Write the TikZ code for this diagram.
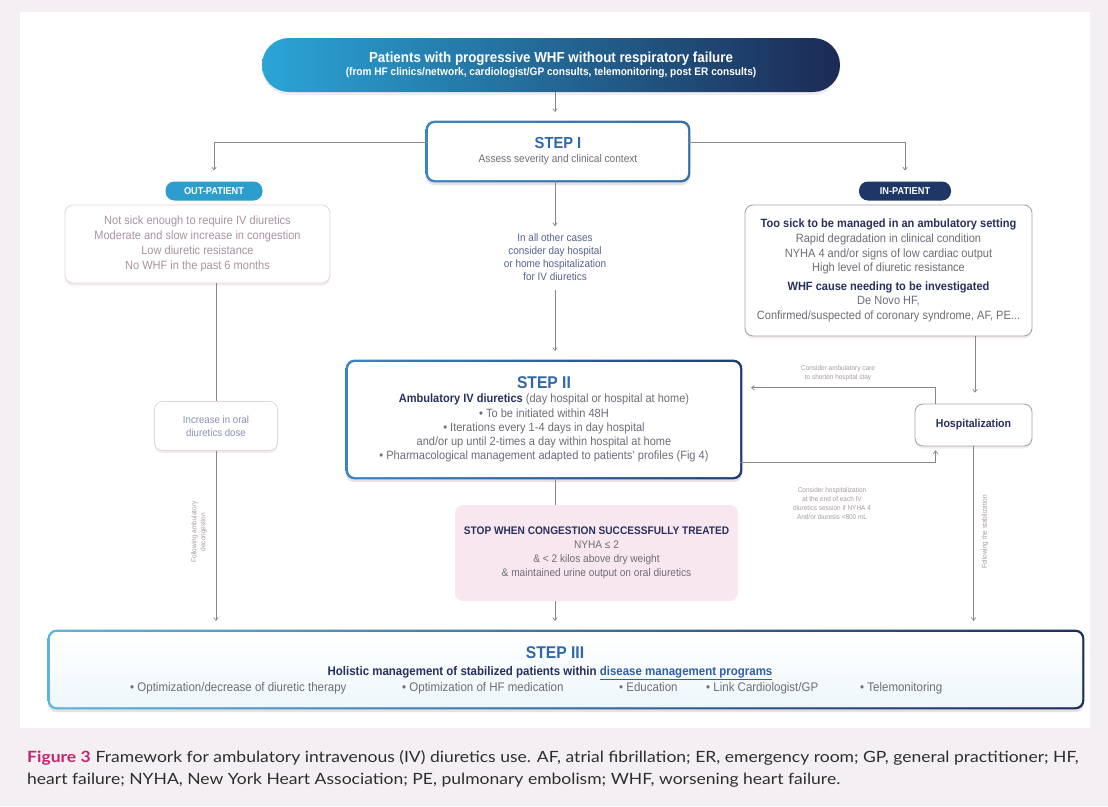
\documentclass[tikz,border=0pt]{standalone}
\usepackage{fontspec}
\setmainfont{Liberation Sans}[FakeStretch=0.92]
\newfontfamily\capfont{Lato}[FakeStretch=1.13]
\usetikzlibrary{arrows.meta,calc,shadows}
\pgfdeclarelayer{back}\pgfdeclarelayer{ring}
\pgfsetlayers{back,ring,main}
\newcommand\fsz[2]{\fontsize{#1}{#2}\selectfont}
\definecolor{outerbg}{HTML}{F3EFF2}
\definecolor{bannerL}{HTML}{2AA5D6}
\definecolor{bannerR}{HTML}{1C2A55}
\definecolor{stepblue}{HTML}{2F68A8}
\definecolor{ringL}{HTML}{3B86C2}
\definecolor{ringR}{HTML}{1F3E72}
\definecolor{navy}{HTML}{27305E}
\definecolor{graytxt}{HTML}{6E6C78}
\definecolor{palepink}{HTML}{A8939F}
\definecolor{midtxt}{HTML}{56628E}
\definecolor{cline}{HTML}{8C8388}
\definecolor{softborder}{HTML}{E6D6DE}
\definecolor{grayborder}{HTML}{ABA3AB}
\definecolor{stopfill}{HTML}{F8E7EE}
\definecolor{outpill}{HTML}{2C9DCC}
\definecolor{inpill}{HTML}{1F3767}
\definecolor{capred}{HTML}{C4246A}
\definecolor{captxt}{HTML}{2E2E2E}
\definecolor{tinytxt}{HTML}{A89AA3}
\definecolor{sIIIL}{HTML}{5BB5DA}
\definecolor{sIIIR}{HTML}{1E2F5A}
\definecolor{sIIIfill}{HTML}{EEF7FB}
\definecolor{linkblue}{HTML}{2F5FA5}
\definecolor{shadowc}{HTML}{D9CCD3}
\tikzset{
  conn/.style={draw=cline, line width=0.7pt},
  arr/.style={conn, -{To[length=3.5pt,width=5pt]}},
  gap/.style={shorten >=11pt},
  stepbox/.style={rounded corners=7pt, fill=white, inner sep=0pt, align=center},
  softbox/.style={rounded corners=8pt, fill=white, line width=0.9pt, inner sep=0pt, align=center,
    drop shadow={shadow xshift=0pt, shadow yshift=-2.5pt, opacity=0.35, fill=shadowc}},
  pill/.style={rounded corners=9pt, minimum height=19, inner sep=0pt, text=white, font=\fsz{10}{12}\bfseries},
  banner/.style={rounded corners=27pt, left color=bannerL, right color=bannerR, minimum width=578,
    minimum height=54, text=white, align=center, inner sep=0pt,
    drop shadow={shadow xshift=0pt, shadow yshift=-3pt, opacity=0.35, fill=shadowc}},
  tinytext/.style={font=\fsz{7}{9}, text=tinytxt, align=center, inner sep=1pt},
  bullet/.style={anchor=base west, font=\fsz{12.5}{14}, text=graytxt, inner sep=0pt},
  captext/.style={anchor=base west, font=\capfont\fsz{15.5}{18}, text=captxt, inner sep=0pt},
}
\begin{document}
\begin{tikzpicture}[x=1pt,y=-1pt]
\useasboundingbox (0,0) rectangle (1108,806);
\begin{pgfonlayer}{back}
  \fill[outerbg] (0,0) rectangle (1108,806);
  \fill[white] (20,12) rectangle (1090,728);
\end{pgfonlayer}

% banner
\node[banner] (banner) at (551,65) {{\fsz{14.5}{17}\bfseries Patients with progressive WHF without respiratory failure}\\[1pt]{\fsz{11}{13}\bfseries (from HF clinics/network, cardiologist/GP consults, telemonitoring, post ER consults)}};

% step I
\node[stepbox, minimum width=260, minimum height=57] (s1) at (558,151.5) {{\fsz{16}{18}\bfseries\color{stepblue}STEP I}\\[2pt]{\fsz{11}{13}\color{graytxt}Assess severity and clinical context}};

% pills
\node[pill, fill=outpill, minimum width=97] (outp) at (214,191) {OUT-PATIENT};
\node[pill, fill=inpill, minimum width=92] (inp) at (905,191) {IN-PATIENT};

% out-patient box
\node[softbox, draw=softborder, minimum width=265, minimum height=78, text=palepink, font=\fsz{12}{15}] (outb) at (197.5,244) {Not sick enough to require IV diuretics\\Moderate and slow increase in congestion\\Low diuretic resistance\\No WHF in the past 6 months};

% middle text
\node[align=center, text=midtxt, font=\fsz{10.8}{13}] (mid) at (555,257) {In all other cases\\consider day hospital\\or home hospitalization\\for IV diuretics};

% in-patient box
\node[softbox, draw=grayborder, minimum width=287, minimum height=131, text=graytxt, font=\fsz{12}{14.6}] (inb) at (888.5,270.5) {{\bfseries\color{navy}Too sick to be managed in an ambulatory setting}\\Rapid degradation in clinical condition\\NYHA 4 and/or signs of low cardiac output\\High level of diuretic resistance\\[4pt]{\bfseries\color{navy}WHF cause needing to be investigated}\\De Novo HF,\\Confirmed/suspected of coronary syndrome, AF, PE...};

% step II
\node[stepbox, minimum width=392, minimum height=115, font=\fsz{12}{14.3}, text=graytxt] (s2) at (544,419.5) {{\fsz{17}{19}\bfseries\color{stepblue}STEP II}\\{\bfseries\color{navy}Ambulatory IV diuretics} (day hospital or hospital at home)\\\textbullet\ To be initiated within 48H\\\textbullet\ Iterations every 1-4 days in day hospital\\and/or up until 2-times a day within hospital at home\\\textbullet\ Pharmacological management adapted to patients’ profiles (Fig 4)};

% hospitalization
\node[softbox, draw=grayborder, minimum width=117, minimum height=42, font=\fsz{11.5}{13}\bfseries, text=navy] (hosp) at (973.5,425) {Hospitalization};

% increase
\node[softbox, draw=softborder, minimum width=123, minimum height=49, font=\fsz{10.5}{13}, text=midtxt!70] (incr) at (216,426) {Increase in oral\\diuretics dose};

% stop box
\node[fill=stopfill, rounded corners=8pt, minimum width=283, minimum height=96, align=center, font=\fsz{11}{14}, text=graytxt, inner sep=0pt] (stop) at (596.5,553) {{\bfseries\color{navy}STOP WHEN CONGESTION SUCCESSFULLY TREATED}\\NYHA ≤ 2\\\& < 2 kilos above dry weight\\\& maintained urine output on oral diuretics};

% step III
\node[stepbox, top color=white, bottom color=sIIIfill, minimum width=1032, minimum height=75] (s3) at (566,669.5) {};
\node[anchor=base, font=\fsz{17}{19}\bfseries, text=stepblue, inner sep=0pt] (s3t) at (555,658) {STEP III};
\node[anchor=base, font=\fsz{12.5}{14}\bfseries, text=navy, inner sep=0pt] (s3s) at (550,675) {Holistic management of stabilized patients within \textcolor{linkblue}{\underline{disease management programs}}};
\node[bullet] (b1) at (130,691) {\textbullet\ Optimization/decrease of diuretic therapy};
\node[bullet] (b2) at (402,691) {\textbullet\ Optimization of HF medication};
\node[bullet] (b3) at (619,691) {\textbullet\ Education};
\node[bullet] (b4) at (706,691) {\textbullet\ Link Cardiologist/GP};
\node[bullet] (b5) at (860,691) {\textbullet\ Telemonitoring};

% rings (gradient borders)
\begin{pgfonlayer}{ring}
  \foreach \n/\cl/\cr in {s1/ringL/ringL!70!ringR, s2/ringL/ringR, s3/sIIIL/sIIIR}{
    \fill[shadowc!60, rounded corners=9pt] ($(\n.north west)+(-2,1)$) rectangle ($(\n.south east)+(2,5)$);
    \shade[left color=\cl, right color=\cr, rounded corners=9pt] ($(\n.north west)+(-2.2,-2.2)$) rectangle ($(\n.south east)+(2.2,2.2)$);
  }
\end{pgfonlayer}

% small texts
\node[tinytext] (camb) at (838,373) {Consider ambulatory care\\to shorten hospital stay};
\node[tinytext] (chosp) at (832,503) {Consider hospitalization\\at the end of each IV\\diuretics session if NYHA 4\\And/or diuresis <800 mL};
\node[tinytext, rotate=90] (famb) at (199,532) {Following ambulatory\\decongestion};
\node[tinytext, rotate=90] (fstab) at (985,532) {Following the stabilization};

% connectors
\coordinate (col) at (555,0);
\draw[arr, gap] (banner.south -| col) -- (s1.north -| col);
\draw[arr, gap] ($(s1.west)+(0,-9)$) -| (outp.north);
\draw[arr, gap] ($(s1.east)+(0,-9)$) -| (inp.north);
\draw[arr, shorten >=4pt] (s1.south -| col) -- (mid.north -| col);
\draw[arr, gap] ($(mid.south -| col)+(0,6)$) -- (s2.north -| col);
\draw[conn] (outb.south -| incr) -- (incr.north);
\draw[arr, gap] (incr.south) -- (incr.south |- s3.north);
\draw[arr, gap] ($(inb.south)+(86.5,0)$) -- ($(hosp.north)+(1.5,0)$);
\draw[arr, gap] ($(hosp.north)+(-38,0)$) |- ($(s2.north east)+(0,26)$);
\draw[arr, shorten >=4pt] ($(s2.south east)+(0,-15)$) -| ($(hosp.south)+(-38,0)$);
\draw[arr, gap] (hosp.south) -- (hosp.south |- s3.north);
\draw[conn] (s2.south -| col) -- (stop.north -| col);
\draw[arr, gap] (stop.south -| col) -- (s3.north -| col);

% caption
\node[captext] (cap1) at (27,762) {\textcolor{capred}{\bfseries Figure 3}\hspace{5pt}Framework for ambulatory intravenous (IV) diuretics use. AF, atrial fibrillation; ER, emergency room; GP, general practitioner; HF,};
\node[captext] (cap2) at (27,784) {heart failure; NYHA, New York Heart Association; PE, pulmonary embolism; WHF, worsening heart failure.};
\end{tikzpicture}
\end{document}
